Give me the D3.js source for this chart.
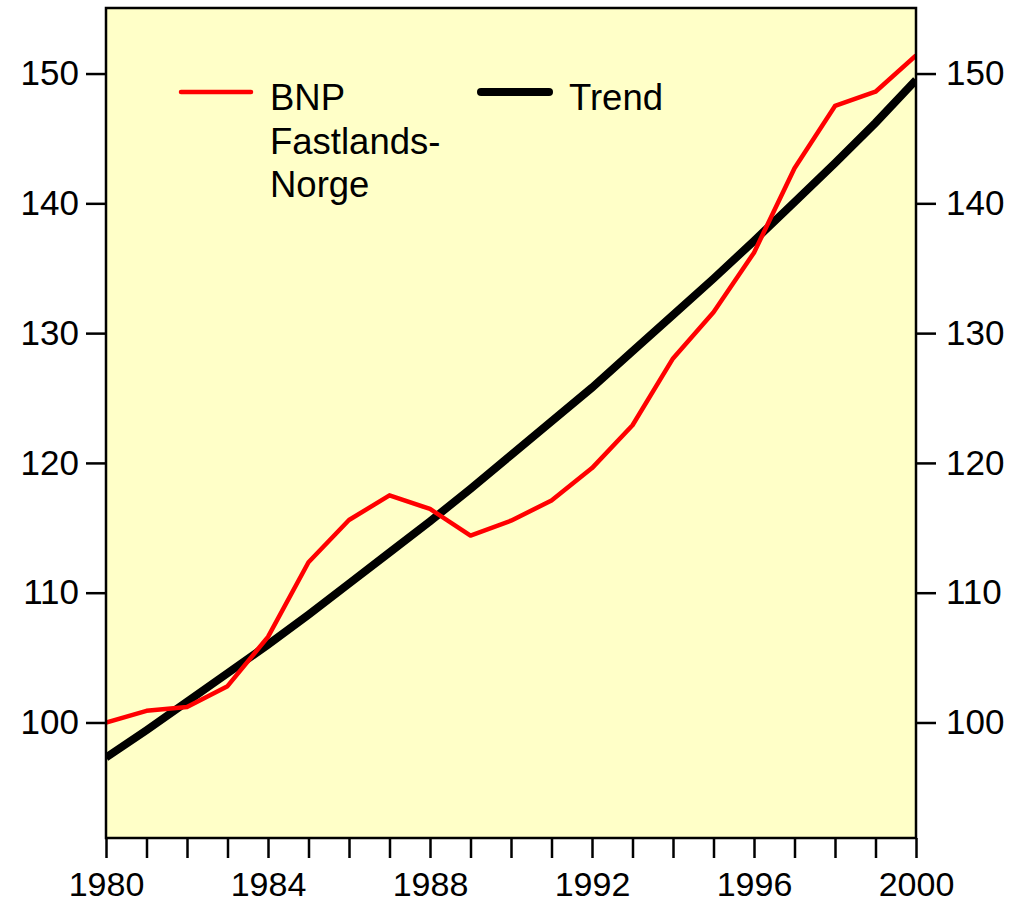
<!DOCTYPE html>
<html><head><meta charset="utf-8">
<script src="https://cdn.jsdelivr.net/npm/d3@7/dist/d3.min.js"></script>
<style>body{margin:0;background:#fff}svg{display:block}</style>
</head><body>
<svg id="c" width="1028" height="903"></svg>
<script>
const years = d3.range(1980, 2001);
const bnpValues = [100.0, 100.9, 101.2, 102.8, 106.6, 112.35, 115.6, 117.5, 116.45, 114.4, 115.55, 117.1, 119.6, 122.9, 128.05, 131.6, 136.2, 142.7, 147.5, 148.6, 151.4];
const trendValues = [97.3, 99.4, 101.6, 103.8, 106.0, 108.3, 110.7, 113.1, 115.5, 118.0, 120.6, 123.2, 125.8, 128.6, 131.4, 134.2, 137.1, 140.1, 143.1, 146.2, 149.5];
const yTicks = [100, 110, 120, 130, 140, 150];
const xLabelYears = [1980, 1984, 1988, 1992, 1996, 2000];
const seriesNames = ["BNP", "Fastlands-", "Norge"];
const trendName = "Trend";

const svg = d3.select("#c");
const L = 106, R = 916, T = 8, B = 838;
const x = d3.scaleLinear().domain([1980, 2000]).range([L, R]);
const y = d3.scaleLinear().domain([91.1, 155.05]).range([B, T]);
const font = "Liberation Sans, Arial, sans-serif";

svg.append("rect").attr("x", L).attr("y", T).attr("width", R - L).attr("height", B - T)
  .attr("fill", "#ffffc8");

svg.append("clipPath").attr("id", "pc").append("rect")
  .attr("x", L).attr("y", T).attr("width", R - L).attr("height", B - T);

const line = d3.line().x((d, i) => x(years[i])).y(d => y(d));
const g = svg.append("g").attr("clip-path", "url(#pc)");
g.append("path").datum(trendValues).attr("d", line).attr("fill", "none")
  .attr("stroke", "#000").attr("stroke-width", 8);
g.append("path").datum(bnpValues).attr("d", line).attr("fill", "none")
  .attr("stroke", "#ff0000").attr("stroke-width", 4.5).attr("stroke-linejoin", "round");

// axes
const axL = svg.append("g").attr("transform", `translate(${L},0)`)
  .call(d3.axisLeft(y).tickValues(yTicks).tickSize(20).tickPadding(7).tickFormat(d3.format("d")));
const axR = svg.append("g").attr("transform", `translate(${R},0)`)
  .call(d3.axisRight(y).tickValues(yTicks).tickSize(20).tickPadding(10).tickFormat(d3.format("d")));
const axB = svg.append("g").attr("transform", `translate(0,${B})`)
  .call(d3.axisBottom(x).tickValues(years).tickSize(20).tickPadding(18)
    .tickFormat(d => xLabelYears.includes(d) ? String(d) : ""));
[axL, axR, axB].forEach(a => {
  a.select(".domain").remove();
  a.selectAll("line").attr("stroke", "#000").attr("stroke-width", 2.5);
  a.selectAll("text").attr("font-family", font).attr("font-size", 35).attr("fill", "#000");
});
axB.selectAll("text").attr("y", 58).attr("dy", 0).attr("font-size", 34);

// frame
svg.append("rect").attr("x", L).attr("y", T).attr("width", R - L).attr("height", B - T)
  .attr("fill", "none").attr("stroke", "#000").attr("stroke-width", 2.5);

// legend
const lg = svg.append("g");
lg.append("line").attr("x1", 181).attr("x2", 251).attr("y1", 92).attr("y2", 92)
  .attr("stroke", "#ff0000").attr("stroke-width", 4.5).attr("stroke-linecap", "round");
seriesNames.forEach((t, i) => {
  lg.append("text").attr("x", 270).attr("y", 110 + i * 43.5).text(t)
    .attr("font-family", font).attr("font-size", 36.5).attr("fill", "#000");
});
lg.append("line").attr("x1", 481).attr("x2", 549).attr("y1", 92).attr("y2", 92)
  .attr("stroke", "#000").attr("stroke-width", 8).attr("stroke-linecap", "round");
lg.append("text").attr("x", 569).attr("y", 110).text(trendName)
  .attr("font-family", font).attr("font-size", 36.5).attr("fill", "#000");
</script>
</body></html>
